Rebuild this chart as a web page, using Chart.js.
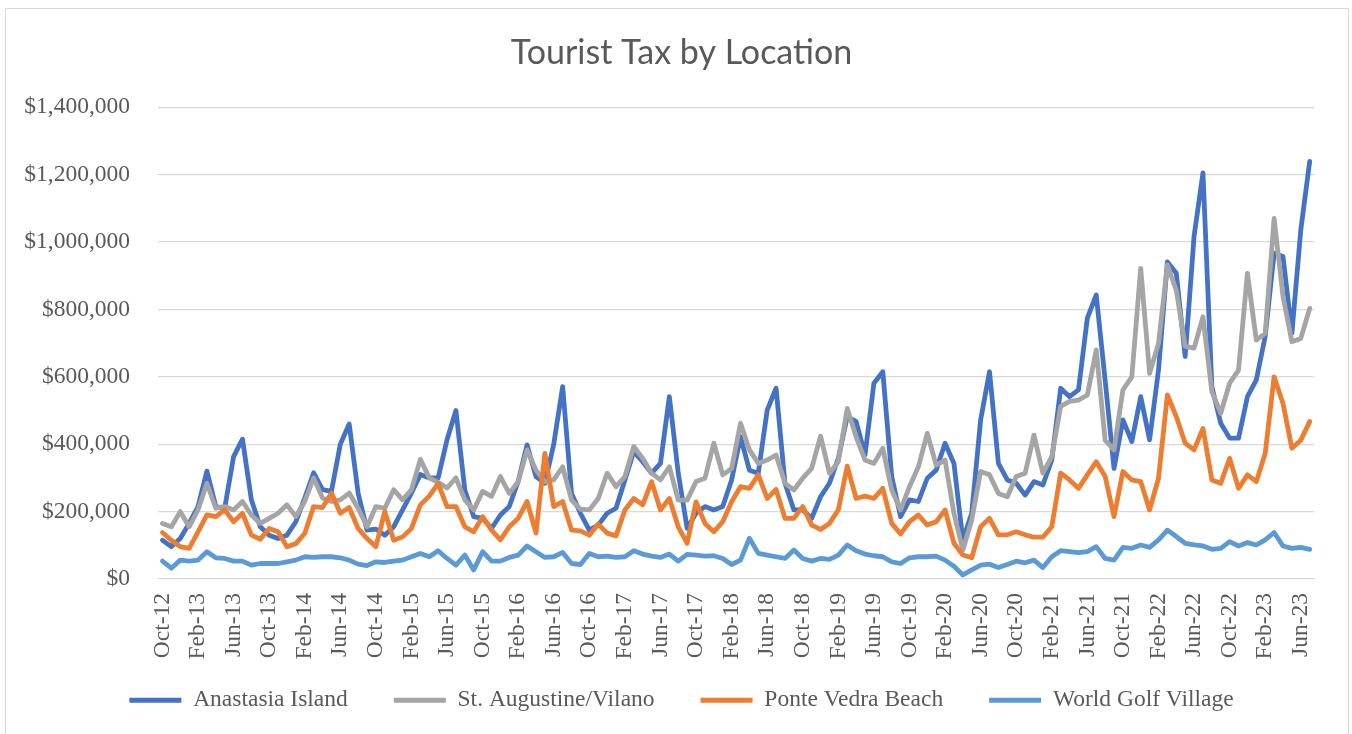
<!DOCTYPE html>
<html>
<head>
<meta charset="utf-8">
<style>
  html, body { margin: 0; padding: 0; background: #ffffff; }
  #wrap { width: 1352px; height: 734px; position: relative; }
</style>
<script src="https://cdn.jsdelivr.net/npm/chart.js@4.4.1/dist/chart.umd.min.js"></script>
</head>
<body>
<div id="wrap"><canvas id="c" width="1352" height="734"></canvas></div>
<script>
const months = [
  "Oct-12","Nov-12","Dec-12",
  "Jan-13","Feb-13","Mar-13","Apr-13","May-13","Jun-13","Jul-13","Aug-13","Sep-13","Oct-13","Nov-13","Dec-13",
  "Jan-14","Feb-14","Mar-14","Apr-14","May-14","Jun-14","Jul-14","Aug-14","Sep-14","Oct-14","Nov-14","Dec-14",
  "Jan-15","Feb-15","Mar-15","Apr-15","May-15","Jun-15","Jul-15","Aug-15","Sep-15","Oct-15","Nov-15","Dec-15",
  "Jan-16","Feb-16","Mar-16","Apr-16","May-16","Jun-16","Jul-16","Aug-16","Sep-16","Oct-16","Nov-16","Dec-16",
  "Jan-17","Feb-17","Mar-17","Apr-17","May-17","Jun-17","Jul-17","Aug-17","Sep-17","Oct-17","Nov-17","Dec-17",
  "Jan-18","Feb-18","Mar-18","Apr-18","May-18","Jun-18","Jul-18","Aug-18","Sep-18","Oct-18","Nov-18","Dec-18",
  "Jan-19","Feb-19","Mar-19","Apr-19","May-19","Jun-19","Jul-19","Aug-19","Sep-19","Oct-19","Nov-19","Dec-19",
  "Jan-20","Feb-20","Mar-20","Apr-20","May-20","Jun-20","Jul-20","Aug-20","Sep-20","Oct-20","Nov-20","Dec-20",
  "Jan-21","Feb-21","Mar-21","Apr-21","May-21","Jun-21","Jul-21","Aug-21","Sep-21","Oct-21","Nov-21","Dec-21",
  "Jan-22","Feb-22","Mar-22","Apr-22","May-22","Jun-22","Jul-22","Aug-22","Sep-22","Oct-22","Nov-22","Dec-22",
  "Jan-23","Feb-23","Mar-23","Apr-23","May-23","Jun-23","Jul-23"
];

const anastasiaIsland = [
  115000,96000,120000,165000,215000,320000,215000,210000,363000,415000,
  235000,155000,130000,120000,130000,170000,240000,315000,265000,260000,
  400000,460000,255000,145000,148000,130000,155000,205000,255000,310000,
  300000,300000,413000,500000,264000,185000,180000,150000,190000,215000,
  290000,398000,304000,284000,400000,571000,254000,195000,145000,160000,
  195000,210000,294000,378000,348000,314000,343000,541000,314000,150000,
  195000,215000,205000,215000,294000,422000,323000,314000,501000,566000,
  284000,205000,205000,180000,244000,284000,358000,482000,467000,368000,
  581000,615000,304000,185000,235000,230000,299000,323000,403000,343000,
  116000,195000,472000,615000,343000,294000,284000,249000,289000,279000,
  353000,566000,541000,561000,774000,843000,590000,328000,472000,408000,
  541000,413000,620000,941000,907000,660000,1017000,1205000,570000,462000,
  418000,418000,541000,591000,720000,967000,957000,729000,1036000,1239000
];

const stAugustineVilano = [
  165000,155000,200000,155000,205000,284000,210000,215000,205000,230000,
  190000,165000,180000,195000,220000,185000,230000,300000,240000,230000,
  235000,255000,210000,155000,215000,210000,265000,235000,265000,355000,
  300000,287000,270000,300000,235000,205000,260000,245000,304000,254000,
  289000,383000,323000,289000,294000,333000,234000,207000,205000,239000,
  314000,274000,304000,393000,358000,314000,294000,333000,234000,234000,
  289000,299000,403000,309000,328000,462000,383000,343000,353000,368000,
  284000,264000,299000,328000,424000,314000,348000,506000,422000,353000,
  343000,388000,264000,205000,274000,333000,432000,338000,353000,195000,
  86000,175000,319000,309000,254000,244000,304000,314000,427000,314000,
  363000,512000,527000,531000,546000,680000,412000,383000,561000,600000,
  922000,610000,699000,932000,857000,690000,685000,778000,556000,492000,
  581000,620000,907000,709000,729000,1070000,838000,704000,714000,803000
];

const ponteVedraBeach = [
  138000,115000,96000,91000,140000,190000,185000,205000,170000,195000,
  130000,118000,150000,140000,96000,105000,135000,215000,212000,255000,
  195000,212000,150000,120000,96000,200000,115000,125000,150000,220000,
  246000,284000,215000,215000,155000,140000,185000,145000,116000,155000,
  180000,230000,136000,373000,215000,230000,145000,143000,130000,163000,
  136000,128000,205000,239000,220000,289000,205000,239000,155000,106000,
  229000,165000,140000,170000,229000,274000,269000,309000,239000,266000,
  180000,180000,215000,160000,147000,165000,205000,335000,239000,246000,
  239000,269000,165000,134000,170000,190000,160000,170000,205000,106000,
  71000,63000,155000,180000,131000,131000,140000,131000,124000,124000,
  155000,314000,294000,269000,309000,348000,304000,185000,319000,294000,
  289000,205000,299000,546000,482000,403000,383000,447000,294000,284000,
  358000,269000,309000,289000,373000,600000,521000,388000,412000,467000
];

const worldGolfVillage = [
  53000,32000,56000,53000,56000,81000,63000,61000,53000,53000,
  41000,46000,46000,46000,51000,56000,66000,64000,66000,66000,
  63000,56000,44000,40000,51000,49000,53000,56000,66000,76000,
  66000,84000,61000,41000,71000,27000,81000,53000,53000,64000,
  71000,98000,81000,64000,66000,79000,46000,43000,76000,66000,
  68000,64000,66000,84000,74000,68000,64000,74000,53000,73000,
  71000,68000,69000,61000,43000,56000,121000,76000,71000,66000,
  61000,86000,61000,53000,61000,58000,71000,101000,84000,74000,
  69000,66000,51000,46000,63000,66000,66000,68000,56000,38000,
  12000,27000,41000,44000,34000,43000,53000,48000,56000,34000,
  66000,84000,81000,78000,81000,96000,61000,56000,94000,91000,
  101000,94000,116000,145000,126000,106000,101000,98000,88000,91000,
  111000,98000,108000,101000,116000,138000,98000,91000,94000,88000
];

const seriesNames = ["Anastasia Island", "St. Augustine/Vilano", "Ponte Vedra Beach", "World Golf Village"];
const seriesColors = ["#4472C4", "#A5A5A5", "#ED7D31", "#5B9BD5"];
const yTickValues = [0, 200000, 400000, 600000, 800000, 1000000, 1200000, 1400000];

const TEXT = "#595959";
const SERIF = "'Liberation Serif', 'Times New Roman', serif";

const bgPlugin = {
  id: 'bg',
  beforeDraw(chart) {
    const ctx = chart.ctx;
    ctx.save();
    ctx.fillStyle = '#ffffff';
    ctx.fillRect(0, 0, chart.width, chart.height);
    ctx.strokeStyle = '#d9d9d9';
    ctx.lineWidth = 1;
    ctx.strokeRect(5.5, 8.5, 1343, 740);
    ctx.restore();
    // let tick labels extend outside their scale boxes (no clipping)
    for (const id of ['x', 'y']) {
      if (chart.scales[id]) chart.scales[id]._computeLabelArea = () => undefined;
    }
  }
};

const allSeries = [anastasiaIsland, stAugustineVilano, ponteVedraBeach, worldGolfVillage];

new Chart(document.getElementById('c'), {
  type: 'line',
  data: {
    labels: months,
    datasets: allSeries.map((vals, i) => ({
      label: seriesNames[i],
      data: vals,
      borderColor: seriesColors[i],
      backgroundColor: seriesColors[i],
      borderWidth: 4.8,
      pointRadius: 0,
      pointStyle: 'line',
      tension: 0,
      fill: false,
      borderJoinStyle: 'round',
      borderCapStyle: 'round',
      order: allSeries.length - 1 - i
    }))
  },
  options: {
    responsive: false,
    animation: false,
    layout: { padding: { left: 41, right: 30, top: 22, bottom: 12 } },
    plugins: {
      tooltip: { enabled: false },
      title: {
        display: true,
        text: 'Tourist Tax by Location',
        color: TEXT,
        font: { family: "Lato, 'Open Sans', sans-serif", size: 34, weight: 'normal' },
        padding: { top: 11, bottom: 33.4 }
      },
      legend: {
        position: 'bottom',
        align: 'center',
        labels: {
          color: TEXT,
          font: { family: SERIF, size: 23.5 },
          usePointStyle: true,
          pointStyle: 'line',
          pointStyleWidth: 52,
          boxHeight: 5,
          padding: 46,
          sort: (a, b) => a.datasetIndex - b.datasetIndex
        }
      }
    },
    scales: {
      x: {
        offset: true,
        grid: { display: false, drawTicks: false },
        border: { display: false },
        ticks: {
          autoSkip: false,
          minRotation: 90,
          maxRotation: 90,
          padding: 14,
          color: TEXT,
          font: { family: SERIF, size: 23.5 },
          callback: function (val, idx) { return idx % 4 === 0 ? months[idx] : ''; }
        },
        afterFit: s => { s.height = 63.5; }
      },
      y: {
        min: 0,
        max: 1400000,
        afterBuildTicks: s => { s.ticks = yTickValues.map(v => ({ value: v })); },
        grid: { color: '#d9d9d9', lineWidth: 1.3, drawTicks: false },
        border: { display: false },
        ticks: {
          padding: 28,
          color: TEXT,
          font: { family: SERIF, size: 23.5 },
          callback: v => '$' + Number(v).toLocaleString('en-US')
        },
        afterFit: s => { s.width = 117; }
      }
    }
  },
  plugins: [bgPlugin]
});
</script>
</body>
</html>
